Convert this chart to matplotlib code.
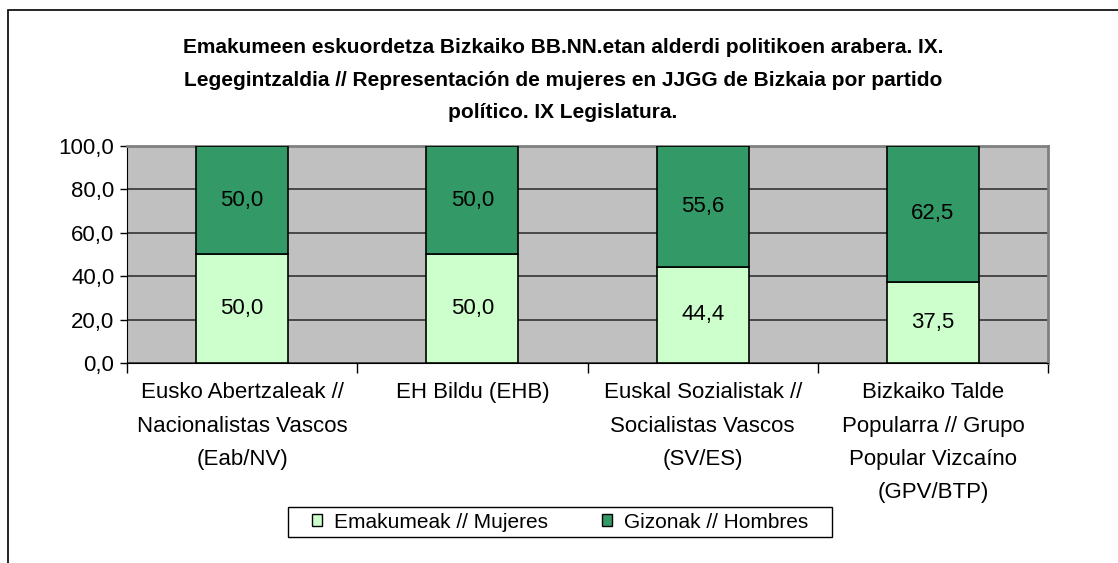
import matplotlib
matplotlib.use("Agg")
import matplotlib.pyplot as plt
from matplotlib.patches import Rectangle
import numpy as np

categories = ["Eusko Abertzaleak //\nNacionalistas Vascos\n(Eab/NV)",
              "EH Bildu (EHB)",
              "Euskal Sozialistak //\nSocialistas Vascos\n(SV/ES)",
              "Bizkaiko Talde\nPopularra // Grupo\nPopular Vizcaíno\n(GPV/BTP)"]
mujeres = [50.0, 50.0, 44.4, 37.5]
hombres = [50.0, 50.0, 55.6, 62.5]
series_names = ["Emakumeak // Mujeres", "Gizonak // Hombres"]
yticks = [0, 20, 40, 60, 80, 100]
title = ("Emakumeen eskuordetza Bizkaiko BB.NN.etan alderdi politikoen arabera. IX.\n"
         "Legegintzaldia // Representación de mujeres en JJGG de Bizkaia por partido\n"
         "político. IX Legislatura.")

W, H = 1118, 563
fig = plt.figure(figsize=(W/100, H/100), dpi=100)
plt.rcParams['font.family'] = ['Liberation Sans', 'DejaVu Sans']

# outer frame
fig.patches.append(Rectangle((8/W, -0.2), 1.5, 1 - 10/H + 0.2, transform=fig.transFigure,
                             fill=False, edgecolor='black', linewidth=1.2, clip_on=False))

l, r, t, b = 127, 1048, 146, 363
ax = fig.add_axes([l/W, 1 - b/H, (r-l)/W, (b-t)/H])
ax.set_facecolor('#C0C0C0')
x = np.arange(len(categories))
w = 0.4
ax.bar(x, mujeres, w, color='#CCFFCC', edgecolor='black', linewidth=1.2, label=series_names[0], zorder=3)
ax.bar(x, hombres, w, bottom=mujeres, color='#339966', edgecolor='black', linewidth=1.2, label=series_names[1], zorder=3)
for i in range(len(categories)):
    ax.text(x[i], mujeres[i]/2, f"{mujeres[i]:.1f}".replace('.', ','), ha='center', va='center', fontsize=16, zorder=4)
    ax.text(x[i], mujeres[i] + hombres[i]/2, f"{hombres[i]:.1f}".replace('.', ','), ha='center', va='center', fontsize=16, zorder=4)

ax.set_xlim(-0.5, len(categories) - 0.5)
ax.set_ylim(0, 100)
ax.set_yticks(yticks)
ax.set_yticklabels([f"{v:.1f}".replace('.', ',') for v in yticks], fontsize=16)
ax.yaxis.grid(True, color='#333333', linewidth=1.2, zorder=1)
ax.set_axisbelow(True)
ax.tick_params(axis='y', length=5, width=1, color='black', pad=4)
ax.set_xticks(x)
ax.set_xticklabels(categories, fontsize=16, linespacing=1.76, va='top')
ax.tick_params(axis='x', length=0, pad=14)
ax.set_xticks(np.arange(-0.5, len(categories)), minor=True)
ax.tick_params(axis='x', which='minor', length=7, width=1, color='black')
for s in ['top', 'right']:
    ax.spines[s].set_color('#808080')
    ax.spines[s].set_linewidth(2)
ax.spines['left'].set_color('black')
ax.spines['bottom'].set_color('black')

fig.text(0.5 * (8 + W) / W, 1 - 38/H, title, ha='center', va='top', fontsize=15, fontweight='bold',
         linespacing=1.9)

leg = ax.legend(loc='center', bbox_to_anchor=((560 - l)/(r - l), (b - 522)/(b - t)), ncol=2, frameon=False,
                fontsize=15, handlelength=0.5, handleheight=0.5,
                columnspacing=2.6, handletextpad=0.55, borderpad=0.3)
for h in leg.legend_handles:
    h.set_edgecolor('black')
    h.set_linewidth(1.0)

fig.canvas.draw()
bb = leg.get_window_extent()
padx = 18
fig.patches.append(Rectangle(((bb.x0 - padx)/W, (bb.y0 + 1)/H), (bb.width + 2*padx)/W, (bb.height - 2)/H,
                             transform=fig.transFigure, fill=False, edgecolor='black', linewidth=1.0))

fig.savefig("out.png", dpi=100)
